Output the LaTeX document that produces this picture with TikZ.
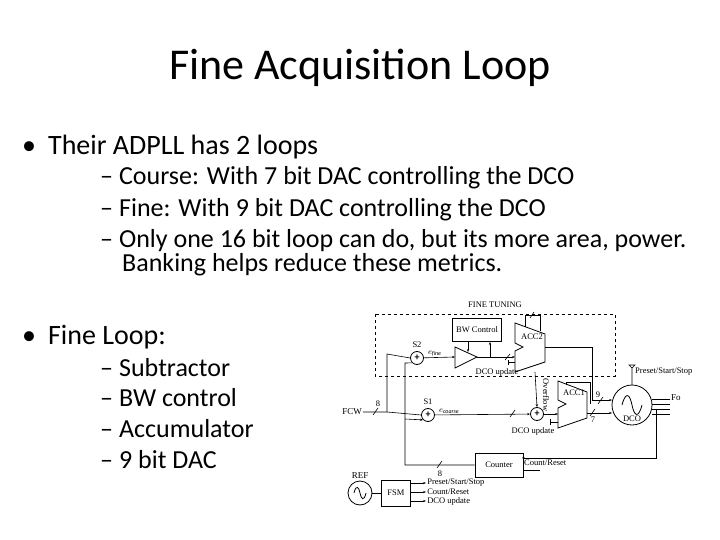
\documentclass[tikz,border=0pt]{standalone}
\usepackage{fontspec}
\setmainfont{Carlito}
\newfontfamily\tms{Liberation Serif}
\usetikzlibrary{arrows.meta,calc}
\begin{document}
\begin{tikzpicture}[x=1pt,y=-1pt,
  blk/.style={draw,thick,fill=white,inner sep=0},
  sm/.style={font=\tms\fontsize{8.5}{9}\selectfont,inner sep=1pt},
  ln/.style={semithick},
  ar/.style={semithick,-{Stealth[length=3pt]}},
  sl/.style={semithick},
  bul/.style={anchor=west,inner sep=0,font=\fontsize{28}{32}\selectfont},
  sub/.style={anchor=west,inner sep=0,font=\fontsize{26}{30}\selectfont,align=left}]
\useasboundingbox (0,0) rectangle (720,540);
\node (title) at (360,68) {\fontsize{44}{48}\selectfont Fine Acquisition Loop};
\node[bul] (b1) at (22,147) {•\hspace{12pt}Their ADPLL has 2 loops};
\node[sub] (s1) at (100,178) {–\hspace{6pt}Course: With 7 bit DAC controlling the DCO};
\node[sub] (s2) at (100,210) {–\hspace{6pt}Fine: With 9 bit DAC controlling the DCO};
\node[sub] (s3) at (100,241) {–\hspace{6pt}Only one 16 bit loop can do, but its more area, power.};
\node[sub] (s4) at (122,265) {Banking helps reduce these metrics.};
\node[bul] (b2) at (22,337) {•\hspace{12pt}Fine Loop:};
\node[sub] (f1) at (100,368) {–\hspace{6pt}Subtractor};
\node[sub] (f2) at (100,398) {–\hspace{6pt}BW control};
\node[sub] (f3) at (100,429) {–\hspace{6pt}Accumulator};
\node[sub] (f4) at (100,460) {–\hspace{6pt}9 bit DAC};
% diagram
\draw[thick,dashed] (375,314) rectangle (615,376);
\node[sm] (ft) at (495,305) {FINE TUNING};
\node[blk,minimum width=49pt,minimum height=23pt,sm] (bw) at (477,330) {BW Control};
\node[draw,thick,circle,minimum size=13pt,inner sep=0] (sa2) at (417,358) {};
\node[font=\bfseries] at (sa2) {+};
\node[sm] (s2l) at (417,345) {S2};
\node[draw,thick,circle,minimum size=13pt,inner sep=0] (sa1) at (428,415) {};
\node[font=\bfseries] at (sa1) {+};
\node[sm] (s1l) at (428,402) {S1};
\node[draw,thick,circle,minimum size=13pt,inner sep=0] (sa3) at (537,414) {};
\node[font=\bfseries] at (sa3) {+};
\draw[thick,fill=white] (455,347) -- (477,357) -- (455,368) -- cycle;
\coordinate (ampin) at (455,357); \coordinate (ampout) at (477,357);
% ACC2
\draw[thick,fill=white] (515,323) -- (545,334) -- (545,362) -- (515,372) -- (515,351) -- (523,347) -- (515,343) -- cycle;
\node[sm] (acc2) at (532,337) {ACC2};
\draw[thick,fill=white] (558,381) -- (587,392) -- (587,418) -- (558,428) -- (558,408) -- (566,404) -- (558,400) -- cycle;
\node[sm] (acc1) at (574,393) {ACC1};
\node[draw,thick,circle,minimum size=40pt,inner sep=0] (dco) at (632,405) {};
\draw[thick] (622,405) .. controls (626,390) and (630,395) .. (632,405) .. controls (634,415) and (638,420) .. (642,405);
\node[sm] at (632,419) {DCO};
\node[blk,minimum width=48pt,minimum height=24pt,sm] (cnt) at (499,465) {Counter};
\node[draw,thick,circle,minimum size=24pt,inner sep=0] (ref) at (360,493) {};
\draw[thick] (354,493) .. controls (356,484) and (359,487) .. (360,493) .. controls (361,499) and (364,502) .. (366,493);
\node[sm,font=\tms\fontsize{9}{10}\selectfont] at (360,476) {REF};
\node[blk,minimum width=29pt,minimum height=26pt,sm] (fsm) at (396,493) {FSM};
\draw[ln] (ref) -- (fsm);
% connections
\node[sm,font=\tms\fontsize{9}{10}\selectfont] (fcw) at (352,412) {FCW};
\coordinate (j) at (387,412);
\draw[ln] (fcw.east) -- (j) -- (sa1.west);
\draw[sl] (373,415) -- (378,408); \node[sm] at (378,404) {8};
\draw[ln] (j) -- (387,354) -- (sa2.west);
\draw[ar] (sa2) -- (ampin) node[sm,pos=0.35,above] {$e_{\mathit{fine}}$};
\draw[ar] (ampout) -- (515,357);
\draw[sl] (505,360) -- (510,354);
\draw[ar] (490,357) -- (bw.south -| 490,0);
\draw[ar] (468,342) -- (468,352);
\draw[ar] (sa1) -- (sa3) node[sm,pos=0.15,above] {$e_{\mathit{coarse}}$};
\draw[sl] (510,417) -- (515,410);
\draw[ar] (sa3) -- (558,414);
\draw[ar] (535,372) -- (sa3.north);
\node[sm,rotate=-90] at (546,395) {Overflow};
% feedback loops on accumulators
\draw[ln] (525,327) -- (525,315) -- (540,315) -- (540,331);
\draw[sl] (530,318) -- (534,312);
\draw[ln] (566,385) -- (566,382) -- (590,382) -- (590,404);
% outputs
\draw[ln] (545,347) -- (592,347) -- (592,400);
\draw[ar] (592,400) -- (612,400);
\draw[sl] (598,404) -- (603,397); \node[sm] at (598,395) {9};
\draw[ar] (587,413) -- (612,413);
\draw[sl] (590,416) -- (595,409); \node[sm] at (593,420) {7};
\foreach \yy in {399,404,409,414} \draw[ln] (652,\yy) -- (670,\yy);
\node[sm,font=\tms\fontsize{9}{10}\selectfont,anchor=west] at (670,398) {Fo};
\draw[ar] (656,410) -- (656,458) -- (cnt.east |- 0,458) -- (cnt.east |- 0,460);
\draw[ln] (cnt.west) -- (405,465) -- (405,363) -- (sa2.south west);
\draw[ar] (405,419) -- (sa1.south west);
\draw[sl] (437,468) -- (442,461); \node[sm] at (440,474) {8};
\node[sm,anchor=west] at (523,463) {Count/Reset};
\draw[ln] (540,470) -- (523,470);
\node[sm] at (497,372) {DCO update};
\node[sm] at (533,431) {DCO update};
\draw[ln] (508,362) -- (515,362); \draw[ln] (508,360) -- (508,365);
\draw[ln] (550,422) -- (558,422); \draw[ln] (550,419) -- (550,425);
\draw[ln] (632,385) -- (632,367) (629,365) -- (635,365) -- (632,368) -- cycle;
\node[sm,anchor=west] at (634,372) {Preset/Start/Stop};
\foreach \yy/\tt in {483/{Preset/Start/Stop},492/{Count/Reset},501/{DCO update}}
  \draw[ar] (410,\yy) -- (426,\yy) node[sm,anchor=west] {\tt};
\end{tikzpicture}
\end{document}
